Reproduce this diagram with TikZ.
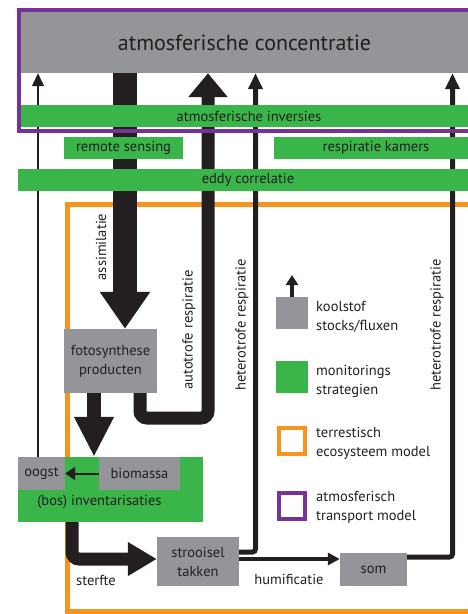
\documentclass[tikz,border=0pt]{standalone}
\usepackage{fontspec}
\setmainfont{PT Sans}
\usetikzlibrary{arrows.meta}
\definecolor{stockgray}{RGB}{147,149,152}
\definecolor{monigreen}{RGB}{57,181,74}
\definecolor{ecoorange}{RGB}{247,148,29}
\definecolor{transpurple}{RGB}{118,50,148}
\definecolor{ink}{RGB}{35,31,32}
\tikzset{
  stock/.style={fill=stockgray, inner sep=0pt, align=center},
  monitor/.style={fill=monigreen, inner sep=0pt, align=center},
  bigflux/.style={draw=ink, line width=24pt, -{Triangle[width=48pt,length=37pt]}},
  midflux/.style={draw=ink, line width=13pt, -{Triangle[width=38pt,length=24pt]}},
  hetflux/.style={draw=ink, line width=5pt, -{Triangle[width=14pt,length=16pt]}},
  thinflux/.style={draw=ink, line width=1.3pt, -{Triangle[width=12pt,length=13pt]}},
  keytext/.style={anchor=west, align=left, inner sep=0pt}
}

\begin{document}
\begin{tikzpicture}[x=1pt,y=-1pt,font=\fontsize{14.5}{19}\selectfont,text=ink]
\clip (0,0) rectangle (468,614);
\node[stock,minimum width=447pt,minimum height=61pt,font=\fontsize{22}{24}\selectfont] (atmos) at (244.5,42.5) {atmosferische concentratie};
\draw[ecoorange,line width=5pt] (67,204.5) rectangle (485,611);

\node[stock,minimum width=93pt,minimum height=64pt] (foto) at (110.5,361) {fotosynthese\\producten};
\node[monitor,minimum width=185pt,minimum height=65pt] (inv) at (110.5,489.5) {};
\node (invtext) at (99.5,502) {(bos) inventarisaties};
\node[stock,minimum width=47pt,minimum height=33pt] (oogst) at (41.5,473.5) {oogst};
\node[stock,minimum width=81pt,minimum height=33pt] (biomassa) at (139.5,473.5) {biomassa};
\node[stock,minimum width=82pt,minimum height=49pt] (strooisel) at (198,561.5) {strooisel\\takken};
\node[stock,minimum width=67pt,minimum height=33pt] (som) at (373.5,569.5) {som};

\coordinate (xoogst) at (38,0);
\coordinate (xass) at (125,0);
\coordinate (xbio) at (94,0);
\coordinate (autolow) at (140,418);
\coordinate (autoup) at (208,418);
\coordinate (xhet) at (255.5,552);
\coordinate (xhet2) at (452.5,557);
\coordinate (ysterf) at (72,559);

\draw[thinflux] (oogst.north -| xoogst) -- (atmos.south -| xoogst);
\draw[bigflux] (atmos.south -| xass) -- (foto.north -| xass);
\draw[midflux,rounded corners=7pt] (foto.south -| autolow) -- (autolow) -- (autoup) -- (atmos.south -| autoup);
\draw[draw=ink,line width=14pt,-{Triangle[width=37pt,length=40pt]}] (foto.south -| xbio) -- (inv.north -| xbio);
\draw[draw=ink,line width=2pt,-{Triangle[width=13pt,length=10pt]}] (biomassa.west) -- (oogst.east);
\draw[draw=ink,line width=13pt,rounded corners=7pt,-{Triangle[width=32pt,length=29pt]}] (inv.south -| ysterf) |- (strooisel.west |- ysterf);
\draw[hetflux,rounded corners=3pt] (strooisel.east |- xhet) -| (atmos.south -| xhet);
\draw[draw=ink,line width=3.5pt,-{Triangle[width=12pt,length=12pt]}] (strooisel.east |- ysterf) -- (som.west |- ysterf);
\draw[hetflux,rounded corners=3pt] (som.east |- xhet2) -| (atmos.south -| xhet2);

\draw[transpurple,line width=4pt] (19,9.5) rectangle (480,130.5);
\node[monitor,minimum width=456pt,minimum height=22pt] (inversies) at (249,116) {atmosferische inversies};
\node[monitor,minimum width=119pt,minimum height=22pt] (remote) at (123.5,148) {remote sensing};
\node[monitor,minimum width=204pt,minimum height=22pt] (kamers) at (376,148) {respiratie kamers};
\node[monitor,minimum width=460pt,minimum height=22pt] (eddy) at (248,180) {eddy correlatie};

\node[rotate=90] (assim) at (101,247) {assimilatie};
\node[rotate=90] (autolab) at (189,330) {autotrofe respiratie};
\node[rotate=90] (het1lab) at (242,325) {heterotrofe respiratie};
\node[rotate=90] (het2lab) at (437,325) {heterotrofe respiratie};
\node (sterfte) at (96,580) {sterfte};
\node (humif) at (289,579) {humificatie};

\node[stock,minimum size=32pt] (keystock) at (292,313) {};
\coordinate (keytip) at (292,275);
\draw[draw=ink,line width=4pt,-{Triangle[width=12pt,length=10pt]}] (keystock.north) -- (keytip);
\node[monitor,minimum size=32pt] (keymon) at (292,377) {};
\node[draw=ecoorange,line width=4pt,minimum size=26pt,inner sep=0pt] (keyeco) at (292,441) {};
\node[draw=transpurple,line width=4pt,minimum size=26pt,inner sep=0pt] (keytrans) at (292,505.5) {};
\node[keytext] (keystocktxt) at (316,317) {koolstof\\stocks/fluxen};
\node[keytext] (keymontxt) at (316,381) {monitorings\\strategien};
\node[keytext] (keyecotxt) at (316,443.5) {terrestisch\\ecosysteem model};
\node[keytext] (keytranstxt) at (316,507) {atmosferisch\\transport model};
\end{tikzpicture}
\end{document}
